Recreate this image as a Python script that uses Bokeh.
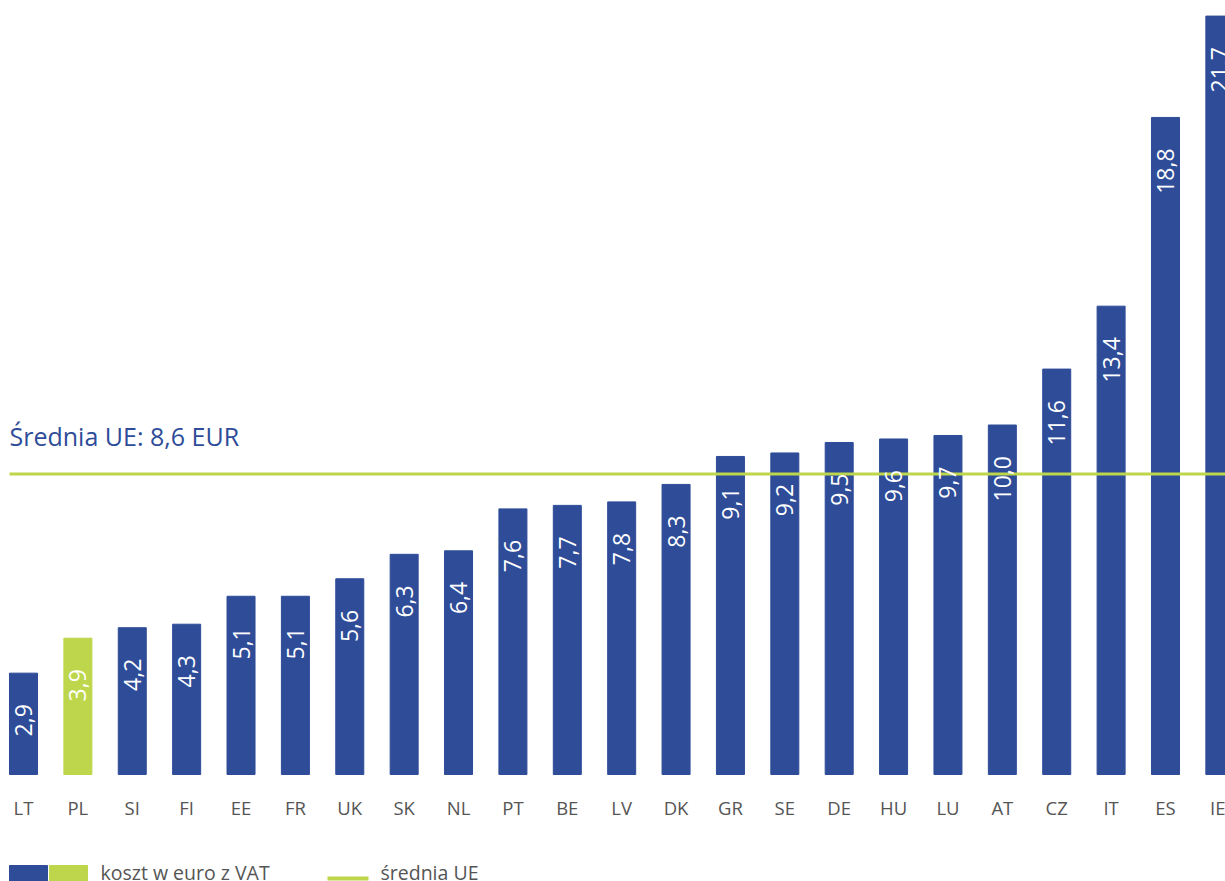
from bokeh.plotting import figure
from bokeh.models import Range1d, FixedTicker, ColumnDataSource
from bokeh.core.properties import value
from bokeh.embed import file_html
from bokeh.resources import INLINE
import math

countries = ["LT", "PL", "SI", "FI", "EE", "FR", "UK", "SK", "NL", "PT", "BE", "LV",
             "DK", "GR", "SE", "DE", "HU", "LU", "AT", "CZ", "IT", "ES", "IE"]
costs = [2.9, 3.9, 4.2, 4.3, 5.1, 5.1, 5.6, 6.3, 6.4, 7.6, 7.7, 7.8,
         8.3, 9.1, 9.2, 9.5, 9.6, 9.7, 10.0, 11.6, 13.4, 18.8, 21.7]
eu_average = 8.6
highlight = "PL"

BLUE = "#2e4c98"
GREEN = "#bdd64b"
GRAY = "#555555"
FONT = "Open Sans"

W, H = 1225, 881
PX_PER_X = 54.38
PX_PER_Y = 34.95
BASE = 774
x_start = -23 / PX_PER_X
x_end = x_start + W / PX_PER_X
y_end = BASE / PX_PER_Y
y_start = -(H - BASE) / PX_PER_Y

def dx(px):
    return x_start + px / PX_PER_X

def dy(py):
    return (BASE - py) / PX_PER_Y

p = figure(width=W, height=H, output_backend="svg", toolbar_location=None,
           x_range=Range1d(x_start, x_end), y_range=Range1d(y_start, y_end),
           min_border=0, outline_line_color=None)
p.xgrid.visible = False
p.ygrid.visible = False
p.yaxis.visible = False

xs = list(range(len(countries)))
colors = [GREEN if c == highlight else BLUE for c in countries]
labels = [f"{v:.1f}".replace(".", ",") for v in costs]
src = ColumnDataSource(dict(x=xs, top=costs, color=colors, label=labels))

p.vbar(x="x", top="top", bottom=0, width=0.515, color="color", source=src)

p.segment(x0=[dx(9)], x1=[x_end], y0=[eu_average], y1=[eu_average],
          line_color=GREEN, line_width=3)

p.text(x="x", y="top", text="label", source=src, angle=math.pi / 2,
       text_align="right", text_baseline="middle", y_offset=31,
       text_color="white", text_font=value(FONT), text_font_size="23px")

p.text(x=[dx(9)], y=[dy(435)], text=["Średnia UE: 8,6 EUR"], text_color=BLUE,
       text_font=value(FONT), text_font_size="25px", text_baseline="middle")

ax = p.xaxis[0]
ax.fixed_location = 0
ax.ticker = FixedTicker(ticks=xs)
ax.major_label_overrides = {i: c for i, c in enumerate(countries)}
ax.axis_line_color = None
ax.major_tick_line_color = None
ax.minor_tick_line_color = None
ax.major_label_standoff = 14
ax.major_label_text_font = FONT
ax.major_label_text_font_size = "18.5px"
ax.major_label_text_color = GRAY

# legend
p.quad(left=[dx(9), dx(49)], right=[dx(47), dx(87)], top=[dy(865)] * 2,
       bottom=[dy(882)] * 2, color=[BLUE, GREEN])
p.text(x=[dx(100)], y=[dy(872)], text=["koszt w euro z VAT"], text_color=GRAY,
       text_font=value(FONT), text_font_size="19.5px", text_baseline="middle")
p.segment(x0=[dx(327)], x1=[dx(368)], y0=[dy(878)], y1=[dy(878)],
          line_color=GREEN, line_width=4)
p.text(x=[dx(380)], y=[dy(872)], text=["średnia UE"], text_color=GRAY,
       text_font=value(FONT), text_font_size="19.5px", text_baseline="middle")

open("out.html", "w").write(file_html(p, INLINE))
